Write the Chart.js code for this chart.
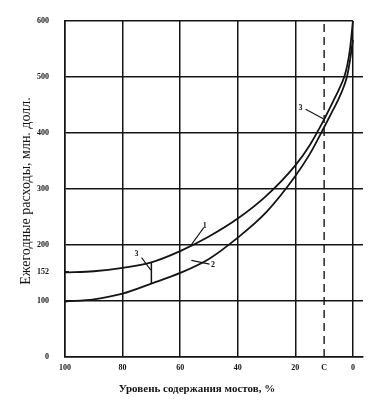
<!DOCTYPE html>
<html>
<head>
<meta charset="utf-8">
<script src="https://cdn.jsdelivr.net/npm/chart.js@4"></script>
<style>
  body { margin: 0; background: #fff; }
  #wrap { width: 380px; height: 400px; }
</style>
</head>
<body>
<div id="wrap"><canvas id="myChart" width="380" height="400"></canvas></div>
<script>
const levels = [100, 90, 80, 70, 60, 50, 40, 30, 20, 15, 10, 7, 5, 3, 2, 1, 0];
const costs1 = [151, 153, 159, 169, 189, 215, 247, 288, 342, 378, 424, 455, 476, 500, 520, 550, 600];
const costs2 = [99, 103, 113, 131, 150, 175, 213, 259, 323, 362, 410, 440, 460, 485, 502, 530, 566];

const xTicks = [100, 80, 60, 40, 20, 10, 0];
const yTicks = [0, 100, 152, 200, 300, 400, 500, 600];
const levelC = 10;
const gapLevel = 70;

const ink = '#141414';
const tickFont = { family: 'Liberation Serif', size: 8, weight: 'bold' };

function toPoints(xs, ys) {
  return xs.map((x, i) => ({ x: x, y: ys[i] }));
}

const gapIdx = levels.indexOf(gapLevel);

const dataCost = {
  datasets: [
    {
      label: '1',
      data: toPoints(levels, costs1),
      borderColor: ink,
      borderWidth: 1.8,
      pointRadius: 0,
      cubicInterpolationMode: 'monotone'
    }, {
      label: '2',
      data: toPoints(levels, costs2),
      borderColor: ink,
      borderWidth: 1.8,
      pointRadius: 0,
      cubicInterpolationMode: 'monotone'
    }, {
      label: '3',
      data: [{ x: gapLevel, y: costs2[gapIdx] }, { x: gapLevel, y: costs1[gapIdx] }],
      borderColor: ink,
      borderWidth: 1.5,
      pointRadius: 0
    }, {
      label: 'C',
      data: [{ x: levelC, y: yTicks[0] }, { x: levelC, y: yTicks[yTicks.length - 1] }],
      borderColor: ink,
      borderWidth: 1.4,
      borderDash: [8, 5],
      pointRadius: 0
    }
  ]
};

// leader lines, labels, top frame and axis titles
const extras = {
  id: 'extras',
  afterDatasetsDraw(chart) {
    const ctx = chart.ctx;
    const xs = chart.scales.x;
    const ys = chart.scales.y;
    const px = v => xs.getPixelForValue(v);
    const py = v => ys.getPixelForValue(v);
    ctx.save();
    ctx.strokeStyle = ink;
    ctx.fillStyle = ink;

    ctx.lineWidth = 1.5;
    ctx.beginPath();
    ctx.moveTo(px(100), py(600));
    ctx.lineTo(px(0), py(600));
    ctx.stroke();

    ctx.beginPath();
    ctx.moveTo(px(100), py(152));
    ctx.lineTo(px(100) + 4, py(152));
    ctx.stroke();

    ctx.lineWidth = 1.1;
    const leaders = [
      ['1', 51.5, 234, 51.8, 231, 56.1, 200.5],
      ['2', 48.6, 164, 49.8, 165.7, 56.1, 172.5],
      ['3', 75.2, 184, 73.4, 177.4, 70.2, 155],
      ['3', 18.2, 444, 16.4, 442, 10.3, 425]
    ];
    ctx.font = 'bold 8px "Liberation Serif"';
    ctx.textAlign = 'center';
    ctx.textBaseline = 'middle';
    leaders.forEach(l => {
      ctx.fillText(l[0], px(l[1]), py(l[2]));
      ctx.beginPath();
      ctx.moveTo(px(l[3]), py(l[4]));
      ctx.lineTo(px(l[5]), py(l[6]));
      ctx.stroke();
    });

    ctx.font = 'bold 11px "Liberation Serif"';
    ctx.fillText('Уровень содержания мостов, %', 197, 389);

    ctx.translate(26, 191);
    ctx.rotate(-Math.PI / 2);
    ctx.font = '14px "Liberation Serif"';
    ctx.fillText('Ежегодные расходы, млн. долл.', 0, 0);
    ctx.restore();
  }
};

const configCost = {
  type: 'line',
  data: dataCost,
  options: {
    responsive: false,
    animation: false,
    layout: {
      padding: { top: 11, right: 17, left: 0, bottom: 0 }
    },
    plugins: {
      legend: { display: false },
      tooltip: { enabled: false }
    },
    scales: {
      x: {
        type: 'linear',
        reverse: true,
        min: -3.5,
        max: 100,
        afterBuildTicks: s => { s.ticks = xTicks.map(v => ({ value: v })); },
        afterFit: s => { s.height = 43; },
        ticks: {
          color: ink,
          font: tickFont,
          padding: 6,
          maxRotation: 0,
          autoSkip: false,
          callback: v => (v === levelC ? 'C' : String(v))
        },
        grid: {
          drawTicks: false,
          lineWidth: 1.5,
          color: c => (c.tick && c.tick.value === levelC ? 'rgba(0,0,0,0)' : ink)
        },
        border: { color: ink, width: 1.5 }
      },
      y: {
        min: 0,
        max: 600,
        afterBuildTicks: s => { s.ticks = yTicks.map(v => ({ value: v })); },
        afterFit: s => { s.width = 65; },
        ticks: {
          color: ink,
          font: tickFont,
          padding: 16,
          autoSkip: false
        },
        grid: {
          drawTicks: false,
          lineWidth: 1.5,
          color: c => (c.tick && (c.tick.value === 152 || c.tick.value === 600) ? 'rgba(0,0,0,0)' : ink)
        },
        border: { color: ink, width: 1.5 }
      }
    }
  },
  plugins: [extras]
};

const myChartCost = new Chart(
  document.getElementById('myChart'),
  configCost
);
</script>
</body>
</html>
